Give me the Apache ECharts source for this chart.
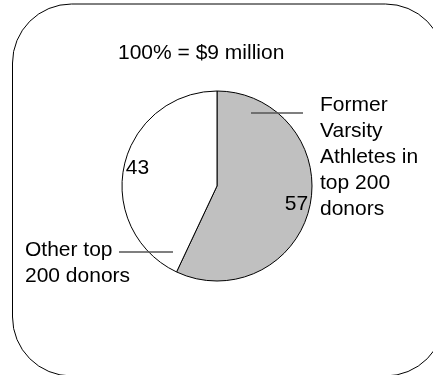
<!DOCTYPE html>
<html>
<head>
<meta charset="utf-8">
<script src="https://cdn.jsdelivr.net/npm/echarts@6/dist/echarts.min.js"></script>
<style>
  html, body { margin: 0; padding: 0; background: #fff; }
  #chart { width: 433px; height: 375px; }
</style>
</head>
<body>
<div id="chart"></div>
<script>
// Share of the $9 million given by the top 200 donors
const categories = ['Former\nVarsity\nAthletes in\ntop 200\ndonors', 'Other top\n200 donors'];
const shares = [57, 43];
const sliceColors = ['#c0c0c0', '#ffffff'];
const headline = '100% = $9 million';

const FONT = 'Arial, "Liberation Sans", Helvetica, sans-serif';
const CENTER = [217, 186];
const RADIUS = 95;

// Placement of the category names and their leader lines
const nameLayout = [
  { x: 320, y: 157, line: [[251, 113], [303, 113]] },
  { x: 25, y: 263, line: [[119, 252], [173, 252]] }
];

const pieData = categories.map((name, i) => ({
  name: name,
  value: shares[i],
  itemStyle: { color: sliceColors[i] }
}));

const leaderLines = nameLayout.map(p => ({
  type: 'polyline',
  z: 10,
  silent: true,
  shape: { points: p.line },
  style: { stroke: '#555', lineWidth: 1.5, fill: null }
}));

const chart = echarts.init(document.getElementById('chart'), null, { renderer: 'canvas' });
chart.setOption({
  animation: false,
  backgroundColor: '#ffffff',
  title: {
    text: headline,
    left: 118,
    top: 41,
    padding: 0,
    textStyle: { fontFamily: FONT, fontSize: 21, fontWeight: 'normal', color: '#000', lineHeight: 24 }
  },
  graphic: [{
    type: 'rect',
    z: -1,
    shape: { x: 12.5, y: 4, width: 432, height: 372, r: 59 },
    style: { fill: 'none', stroke: '#000', lineWidth: 1 }
  }].concat(leaderLines),
  series: [
    {
      type: 'pie',
      center: CENTER,
      radius: RADIUS,
      startAngle: 90,
      clockwise: true,
      silent: true,
      avoidLabelOverlap: false,
      emphasis: { disabled: true },
      itemStyle: { borderColor: '#000', borderWidth: 1 },
      label: {
        show: true,
        position: 'outside',
        formatter: '{b}',
        fontFamily: FONT,
        fontSize: 21,
        lineHeight: 26,
        color: '#000'
      },
      labelLine: { show: false },
      labelLayout: function (params) {
        const p = nameLayout[params.dataIndex];
        return { x: p.x, y: p.y, align: 'left', verticalAlign: 'middle' };
      },
      data: pieData
    },
    {
      // Value labels, set part-way out along each slice
      type: 'pie',
      center: CENTER,
      radius: [62, RADIUS],
      startAngle: 90,
      clockwise: true,
      silent: true,
      emphasis: { disabled: true },
      itemStyle: { color: 'rgba(0,0,0,0)', borderWidth: 0 },
      label: {
        show: true,
        position: 'inside',
        formatter: '{c}',
        fontFamily: FONT,
        fontSize: 21,
        color: '#000'
      },
      labelLine: { show: false },
      data: categories.map((name, i) => ({ name: name, value: shares[i] }))
    }
  ]
});
</script>
</body>
</html>
